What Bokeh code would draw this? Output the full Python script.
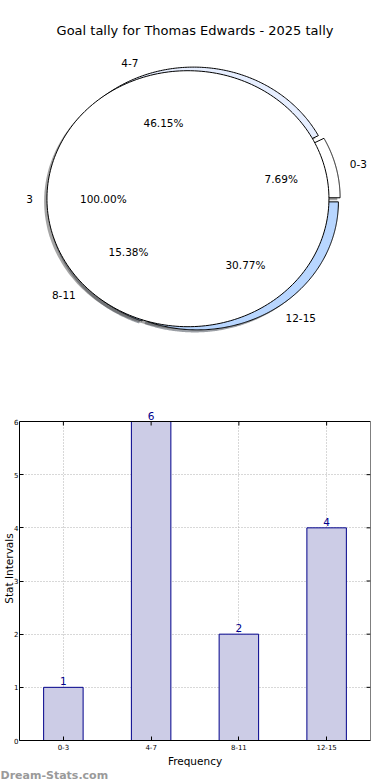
import numpy as np
from bokeh.plotting import figure
from bokeh.layouts import column
from bokeh.models import (Range1d, FactorRange, LabelSet, ColumnDataSource,
                          FixedTicker, Title, BoxAnnotation, Span)
from bokeh.transform import dodge
from bokeh.core.properties import value
from bokeh.embed import file_html
from bokeh.resources import INLINE

# ---------------- data ----------------
title_text = "Goal tally for Thomas Edwards - 2025 tally"
categories = ["0-3", "4-7", "8-11", "12-15"]
counts = [1, 6, 2, 4]
inner_labels = ["3"]
inner_counts = [13]
outer_colors = ["#ffffff", "#e6eeff", "#aac8f0", "#b8d6ff"]
inner_colors = ["#ffffff"]
y_ticks = [0, 1, 2, 3, 4, 5, 6]
x_axis_title = "Frequency"
y_axis_title = "Stat Intervals"
watermark = "Dream-Stats.com"

FONT = "DejaVu Sans"

# ---------------- layout constants ----------------
W = 390
H_PIE = 390
H_BAR = 390
FL, FR = 19, 370             # frame left / right edge (px) shared by both plots
SX, SY = 141.0, 128.0        # px per pie unit (horizontal / vertical)
CX, CY = 194.5, 390 - 198.2  # pie centre in pixel-like data units (y up)
R_OUT = 1.0
R_IN = 1.0
EXPLODE_OUT = 0.03
EXPLODE_IN = 0.05
SHADOW = -0.02

BAR_TOP_BORDER = 6           # frame extends above the axes box so labels show
BAR_BOTTOM_BORDER = 40
AXES_TOP_PX = 421 - 390      # y = max tick sits here (px from figure top)
Y_MAX = max(y_ticks)
Y_VIEW = Y_MAX * (H_BAR - BAR_BOTTOM_BORDER - BAR_TOP_BORDER) / (H_BAR - BAR_BOTTOM_BORDER - AXES_TOP_PX)

pie = figure(width=W, height=H_PIE, output_backend="svg", toolbar_location=None,
             x_range=Range1d(FL, FR), y_range=Range1d(0, H_PIE),
             x_axis_location=None, y_axis_location=None, match_aspect=False,
             min_border_left=FL, min_border_right=W - FR, min_border_top=0,
             min_border_bottom=0, outline_line_color=None)
pie.grid.visible = False


def hex_rgb(h):
    h = h.lstrip("#")
    return tuple(int(h[i:i + 2], 16) for i in (0, 2, 4))


def shade(h):
    r, g, b = hex_rgb(h)
    return "#%02x%02x%02x" % (int(0.3 * r), int(0.3 * g), int(0.3 * b))


def to_px(u, v):
    return CX + SX * np.asarray(u), CY + SY * np.asarray(v)


def build_pie(vals, radius, explode):
    vals = np.asarray(vals, dtype=float)
    fr = vals / vals.sum()
    bounds = np.concatenate([[0.0], np.cumsum(fr)]) * 2 * np.pi
    res = []
    for i, f in enumerate(fr):
        t1, t2 = bounds[i], bounds[i + 1]
        tm = 0.5 * (t1 + t2)
        cx = explode * np.cos(tm)
        cy = explode * np.sin(tm)
        t = np.linspace(t1, t2, 240)
        if abs(f - 1.0) < 1e-9:
            us = cx + radius * np.cos(t)
            vs = cy + radius * np.sin(t)
        else:
            us = np.concatenate([[cx], cx + radius * np.cos(t), [cx]])
            vs = np.concatenate([[cy], cy + radius * np.sin(t), [cy]])
        res.append(dict(us=us, vs=vs, cx=cx, cy=cy, tm=tm, frac=f))
    return res


outer = build_pie(counts, R_OUT, EXPLODE_OUT)
inner = build_pie(inner_counts, R_IN, EXPLODE_IN)

# shadows first (drawn beneath all wedges)
for wedges, cols in ((outer, outer_colors), (inner, inner_colors)):
    xs, ys = [], []
    for w in wedges:
        x, y = to_px(w["us"] + SHADOW, w["vs"] + SHADOW)
        xs.append(list(x)); ys.append(list(y))
    pie.patches(xs=xs, ys=ys, fill_color=[shade(c) for c in cols],
                fill_alpha=0.5, line_color=None)

for wedges, cols in ((outer, outer_colors), (inner, inner_colors)):
    xs, ys = [], []
    for w in wedges:
        x, y = to_px(w["us"], w["vs"])
        xs.append(list(x)); ys.append(list(y))
    pie.patches(xs=xs, ys=ys, fill_color=cols, line_color="black", line_width=1)


def add_labels(wedges, labels, radius):
    lx, ly, la, px, py, pt = [], [], [], [], [], []
    for w, lab in zip(wedges, labels):
        ut = w["cx"] + 1.1 * radius * np.cos(w["tm"])
        vt = w["cy"] + 1.1 * radius * np.sin(w["tm"])
        x, y = to_px(ut, vt)
        lx.append(float(x)); ly.append(float(y))
        la.append("left" if ut > 0 else "right")
        x, y = to_px(w["cx"] + 0.6 * radius * np.cos(w["tm"]),
                     w["cy"] + 0.6 * radius * np.sin(w["tm"]))
        px.append(float(x)); py.append(float(y))
        pt.append("%.2f%%" % (100 * w["frac"]))
    pie.text(x=lx, y=ly, text=list(labels), text_align=la, text_baseline="middle",
             text_font=value(FONT), text_font_size="10.5px", text_color="black")
    pie.text(x=px, y=py, text=pt, text_align="center", text_baseline="middle",
             text_font=value(FONT), text_font_size="10.5px", text_color="black")


add_labels(outer, categories, R_OUT)
add_labels(inner, inner_labels, R_IN)

tx, ty = to_px(0.0, 168.2 / SY)
pie.text(x=[float(tx)], y=[float(ty)], text=[title_text], text_align="center",
         text_baseline="middle", text_font=value(FONT), text_font_size="13px",
         text_color="black")

# ---------------- bar chart ----------------
bar = figure(width=W, height=H_BAR, output_backend="svg", toolbar_location=None,
             x_range=FactorRange(*categories), y_range=Range1d(0, Y_VIEW),
             min_border_left=FL, min_border_right=W - FR,
             min_border_top=BAR_TOP_BORDER, min_border_bottom=BAR_BOTTOM_BORDER)
bar.outline_line_color = None

for g in (bar.xgrid, bar.ygrid):
    g.grid_line_color = "#b0b0b0"
    g.grid_line_dash = "1 2"
    g.grid_line_width = 1

src = ColumnDataSource(dict(cat=categories, val=counts, lab=[str(c) for c in counts]))
bar.vbar(x="cat", top="val", width=0.45, source=src, fill_color="#ccccE6",
         line_color="#00008b", line_width=1)

# mirrored inward ticks on the right and top edges, and the right spine
edge = ColumnDataSource(dict(cat=[categories[-1]] * len(y_ticks), y=y_ticks))
bar.ray(x=dodge("cat", 0.5, range=bar.x_range), y="y", source=edge, length=4,
        length_units="screen", angle=np.pi, line_color="black", line_width=1)
spine = ColumnDataSource(dict(cat=[categories[-1]], y0=[0], y1=[Y_MAX]))
bar.segment(x0=dodge("cat", 0.5, range=bar.x_range), y0="y0",
            x1=dodge("cat", 0.5, range=bar.x_range), y1="y1", source=spine,
            line_color="black", line_width=1)
bar.ray(x=categories, y=[Y_MAX] * len(categories), length=4,
        length_units="screen", angle=-np.pi / 2, line_color="black", line_width=1)

# blank the strip above the axes box, then the top spine
bar.add_layout(BoxAnnotation(bottom=Y_MAX, fill_color="white", fill_alpha=1,
                             line_color=None))
bar.add_layout(Span(location=Y_MAX, dimension="width", line_color="black",
                    line_width=1))

bar.add_layout(LabelSet(x="cat", y="val", text="lab", source=src, y_offset=2,
                        text_align="center", text_baseline="bottom",
                        text_font=value(FONT), text_font_size="10.5px",
                        text_color="#00008b"))

bar.yaxis.ticker = FixedTicker(ticks=y_ticks)
bar.yaxis.bounds = (0, Y_MAX)
for ax in (bar.xaxis[0], bar.yaxis[0]):
    ax.major_tick_in = 4
    ax.major_tick_out = 0
    ax.minor_tick_in = 0
    ax.minor_tick_out = 0
    ax.axis_line_color = "black"
    ax.major_label_text_font = FONT
    ax.major_label_text_color = "black"
    ax.major_label_text_font_size = "7px"
    ax.axis_label_text_font = FONT
    ax.axis_label_text_font_size = "10.5px"
    ax.axis_label_text_font_style = "normal"
    ax.axis_label_text_color = "black"
bar.yaxis[0].major_label_standoff = 1
bar.yaxis[0].axis_label_standoff = -4
bar.yaxis[0].axis_label = y_axis_title
bar.xaxis[0].major_label_standoff = 3
bar.xaxis[0].axis_label = x_axis_title
bar.xaxis[0].axis_label_standoff = 2

bar.add_layout(Title(text=watermark, align="left", offset=-FL, standoff=-6,
                     text_font=FONT, text_font_size="11px",
                     text_font_style="bold", text_color="#9a9a9a"), "below")

layout = column(pie, bar, spacing=0)
open("out.html", "w").write(file_html(layout, INLINE))
